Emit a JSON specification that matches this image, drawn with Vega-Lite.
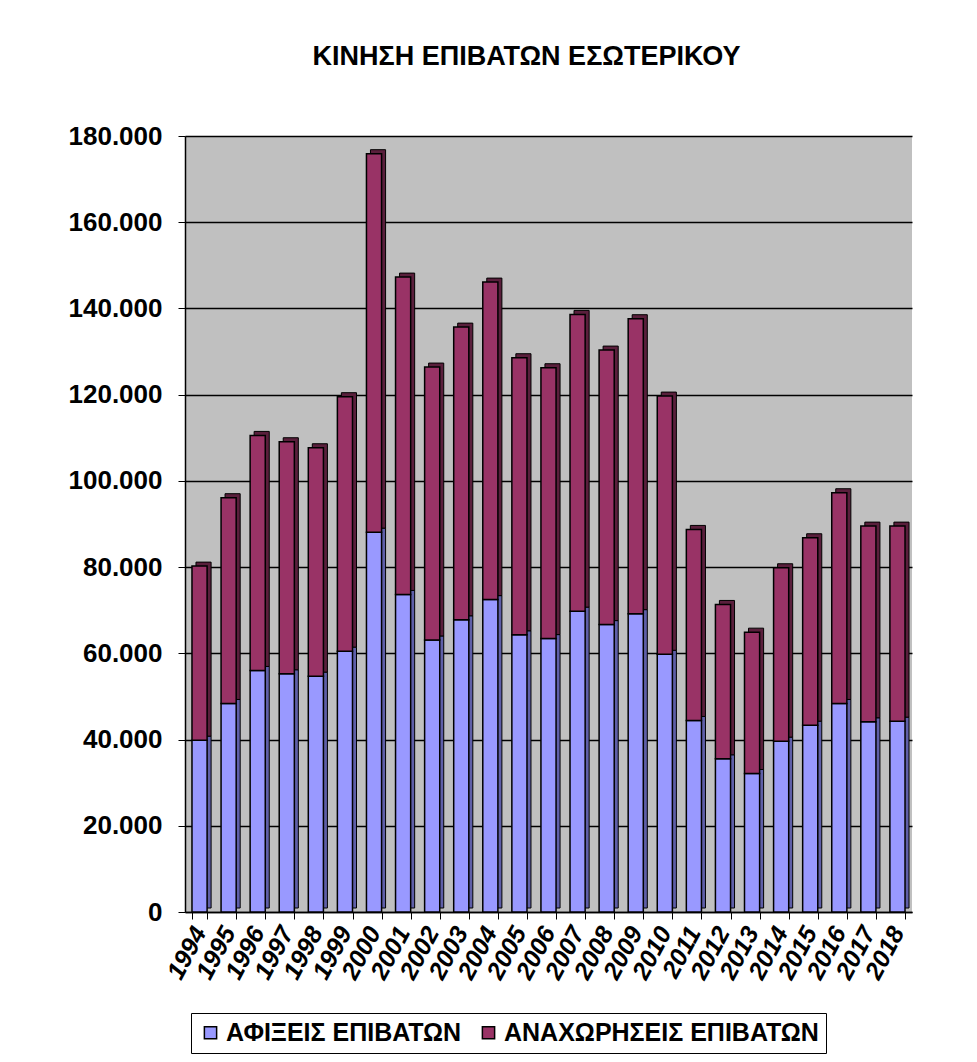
{
  "$schema": "https://vega.github.io/schema/vega-lite/v6.json",
  "autosize": {"type": "none"},
  "width": 727,
  "height": 776,
  "padding": {"left": 185, "top": 136, "right": 65, "bottom": 150},
  "background": "white",
  "title": {
    "text": "ΚΙΝΗΣΗ ΕΠΙΒΑΤΩΝ ΕΣΩΤΕΡΙΚΟΥ",
    "font": "Liberation Sans",
    "fontSize": 27,
    "fontWeight": "bold",
    "color": "black",
    "baseline": "alphabetic",
    "offset": 31,
    "dx": -22
  },
  "config": {
    "locale": {"number": {"decimal": ",", "thousands": ".", "grouping": [3], "currency": ["", "€"]}},
    "view": {"stroke": null, "fill": "#C0C0C0"},
    "axis": {"labelFont": "Liberation Sans", "labelColor": "black", "domainColor": "black", "tickColor": "black"}
  },
  "data": {"values": [
    {"year": "1994", "type": "ΑΦΙΞΕΙΣ ΕΠΙΒΑΤΩΝ", "value": 39860},
    {"year": "1994", "type": "ΑΝΑΧΩΡΗΣΕΙΣ ΕΠΙΒΑΤΩΝ", "value": 40370},
    {"year": "1995", "type": "ΑΦΙΞΕΙΣ ΕΠΙΒΑΤΩΝ", "value": 48370},
    {"year": "1995", "type": "ΑΝΑΧΩΡΗΣΕΙΣ ΕΠΙΒΑΤΩΝ", "value": 47730},
    {"year": "1996", "type": "ΑΦΙΞΕΙΣ ΕΠΙΒΑΤΩΝ", "value": 56030},
    {"year": "1996", "type": "ΑΝΑΧΩΡΗΣΕΙΣ ΕΠΙΒΑΤΩΝ", "value": 54520},
    {"year": "1997", "type": "ΑΦΙΞΕΙΣ ΕΠΙΒΑΤΩΝ", "value": 55260},
    {"year": "1997", "type": "ΑΝΑΧΩΡΗΣΕΙΣ ΕΠΙΒΑΤΩΝ", "value": 53820},
    {"year": "1998", "type": "ΑΦΙΞΕΙΣ ΕΠΙΒΑΤΩΝ", "value": 54710},
    {"year": "1998", "type": "ΑΝΑΧΩΡΗΣΕΙΣ ΕΠΙΒΑΤΩΝ", "value": 52980},
    {"year": "1999", "type": "ΑΦΙΞΕΙΣ ΕΠΙΒΑΤΩΝ", "value": 60510},
    {"year": "1999", "type": "ΑΝΑΧΩΡΗΣΕΙΣ ΕΠΙΒΑΤΩΝ", "value": 59020},
    {"year": "2000", "type": "ΑΦΙΞΕΙΣ ΕΠΙΒΑΤΩΝ", "value": 88110},
    {"year": "2000", "type": "ΑΝΑΧΩΡΗΣΕΙΣ ΕΠΙΒΑΤΩΝ", "value": 87790},
    {"year": "2001", "type": "ΑΦΙΞΕΙΣ ΕΠΙΒΑΤΩΝ", "value": 73660},
    {"year": "2001", "type": "ΑΝΑΧΩΡΗΣΕΙΣ ΕΠΙΒΑΤΩΝ", "value": 73610},
    {"year": "2002", "type": "ΑΦΙΞΕΙΣ ΕΠΙΒΑΤΩΝ", "value": 63100},
    {"year": "2002", "type": "ΑΝΑΧΩΡΗΣΕΙΣ ΕΠΙΒΑΤΩΝ", "value": 63300},
    {"year": "2003", "type": "ΑΦΙΞΕΙΣ ΕΠΙΒΑΤΩΝ", "value": 67780},
    {"year": "2003", "type": "ΑΝΑΧΩΡΗΣΕΙΣ ΕΠΙΒΑΤΩΝ", "value": 67890},
    {"year": "2004", "type": "ΑΦΙΞΕΙΣ ΕΠΙΒΑΤΩΝ", "value": 72460},
    {"year": "2004", "type": "ΑΝΑΧΩΡΗΣΕΙΣ ΕΠΙΒΑΤΩΝ", "value": 73650},
    {"year": "2005", "type": "ΑΦΙΞΕΙΣ ΕΠΙΒΑΤΩΝ", "value": 64300},
    {"year": "2005", "type": "ΑΝΑΧΩΡΗΣΕΙΣ ΕΠΙΒΑΤΩΝ", "value": 64270},
    {"year": "2006", "type": "ΑΦΙΞΕΙΣ ΕΠΙΒΑΤΩΝ", "value": 63420},
    {"year": "2006", "type": "ΑΝΑΧΩΡΗΣΕΙΣ ΕΠΙΒΑΤΩΝ", "value": 62830},
    {"year": "2007", "type": "ΑΦΙΞΕΙΣ ΕΠΙΒΑΤΩΝ", "value": 69790},
    {"year": "2007", "type": "ΑΝΑΧΩΡΗΣΕΙΣ ΕΠΙΒΑΤΩΝ", "value": 68830},
    {"year": "2008", "type": "ΑΦΙΞΕΙΣ ΕΠΙΒΑΤΩΝ", "value": 66670},
    {"year": "2008", "type": "ΑΝΑΧΩΡΗΣΕΙΣ ΕΠΙΒΑΤΩΝ", "value": 63670},
    {"year": "2009", "type": "ΑΦΙΞΕΙΣ ΕΠΙΒΑΤΩΝ", "value": 69210},
    {"year": "2009", "type": "ΑΝΑΧΩΡΗΣΕΙΣ ΕΠΙΒΑΤΩΝ", "value": 68410},
    {"year": "2010", "type": "ΑΦΙΞΕΙΣ ΕΠΙΒΑΤΩΝ", "value": 59780},
    {"year": "2010", "type": "ΑΝΑΧΩΡΗΣΕΙΣ ΕΠΙΒΑΤΩΝ", "value": 59890},
    {"year": "2011", "type": "ΑΦΙΞΕΙΣ ΕΠΙΒΑΤΩΝ", "value": 44430},
    {"year": "2011", "type": "ΑΝΑΧΩΡΗΣΕΙΣ ΕΠΙΒΑΤΩΝ", "value": 44310},
    {"year": "2012", "type": "ΑΦΙΞΕΙΣ ΕΠΙΒΑΤΩΝ", "value": 35540},
    {"year": "2012", "type": "ΑΝΑΧΩΡΗΣΕΙΣ ΕΠΙΒΑΤΩΝ", "value": 35800},
    {"year": "2013", "type": "ΑΦΙΞΕΙΣ ΕΠΙΒΑΤΩΝ", "value": 32130},
    {"year": "2013", "type": "ΑΝΑΧΩΡΗΣΕΙΣ ΕΠΙΒΑΤΩΝ", "value": 32780},
    {"year": "2014", "type": "ΑΦΙΞΕΙΣ ΕΠΙΒΑΤΩΝ", "value": 39630},
    {"year": "2014", "type": "ΑΝΑΧΩΡΗΣΕΙΣ ΕΠΙΒΑΤΩΝ", "value": 40220},
    {"year": "2015", "type": "ΑΦΙΞΕΙΣ ΕΠΙΒΑΤΩΝ", "value": 43340},
    {"year": "2015", "type": "ΑΝΑΧΩΡΗΣΕΙΣ ΕΠΙΒΑΤΩΝ", "value": 43470},
    {"year": "2016", "type": "ΑΦΙΞΕΙΣ ΕΠΙΒΑΤΩΝ", "value": 48370},
    {"year": "2016", "type": "ΑΝΑΧΩΡΗΣΕΙΣ ΕΠΙΒΑΤΩΝ", "value": 48880},
    {"year": "2017", "type": "ΑΦΙΞΕΙΣ ΕΠΙΒΑΤΩΝ", "value": 44120},
    {"year": "2017", "type": "ΑΝΑΧΩΡΗΣΕΙΣ ΕΠΙΒΑΤΩΝ", "value": 45390},
    {"year": "2018", "type": "ΑΦΙΞΕΙΣ ΕΠΙΒΑΤΩΝ", "value": 44270},
    {"year": "2018", "type": "ΑΝΑΧΩΡΗΣΕΙΣ ΕΠΙΒΑΤΩΝ", "value": 45240}
  ]},
  "encoding": {
    "x": {
      "field": "year", "type": "nominal",
      "scale": {"paddingInner": 0.48, "paddingOuter": 0.24},
      "axis": {
        "title": null, "labelAngle": -62, "labelAlign": "right", "labelBaseline": "middle",
        "labelFontSize": 25, "labelFontWeight": "bold", "labelFontStyle": "italic",
        "labelPadding": 9, "tickBand": "extent", "tickSize": 7, "domainWidth": 1.5
      }
    },
    "y": {
      "field": "value", "type": "quantitative", "stack": "zero",
      "scale": {"domain": [0, 180000], "nice": false},
      "axis": {
        "title": null, "values": [0, 20000, 40000, 60000, 80000, 100000, 120000, 140000, 160000, 180000],
        "format": ",d", "labelFontSize": 26, "labelFontWeight": "bold", "labelPadding": 16, "tickSize": 7,
        "gridColor": "black", "gridWidth": 1.6, "gridOpacity": 1, "domainWidth": 1.5
      }
    }
  },
  "layer": [
    {
      "mark": {"type": "bar", "xOffset": 4, "yOffset": -4, "stroke": "black", "strokeWidth": 1},
      "encoding": {
        "color": {
          "field": "type", "type": "nominal",
          "sort": ["ΑΦΙΞΕΙΣ ΕΠΙΒΑΤΩΝ", "ΑΝΑΧΩΡΗΣΕΙΣ ΕΠΙΒΑΤΩΝ"],
          "scale": {"domain": ["ΑΦΙΞΕΙΣ ΕΠΙΒΑΤΩΝ", "ΑΝΑΧΩΡΗΣΕΙΣ ΕΠΙΒΑΤΩΝ"], "range": ["#5f5fa8", "#5a1f3c"]},
          "legend": null
        }
      }
    },
    {
      "mark": {"type": "bar", "stroke": "black", "strokeWidth": 1.5, "opacity": 1},
      "encoding": {
        "color": {
          "field": "type", "type": "nominal",
          "sort": ["ΑΦΙΞΕΙΣ ΕΠΙΒΑΤΩΝ", "ΑΝΑΧΩΡΗΣΕΙΣ ΕΠΙΒΑΤΩΝ"],
          "scale": {"domain": ["ΑΦΙΞΕΙΣ ΕΠΙΒΑΤΩΝ", "ΑΝΑΧΩΡΗΣΕΙΣ ΕΠΙΒΑΤΩΝ"], "range": ["#9999FF", "#993366"]},
          "legend": {
            "title": null, "orient": "none", "legendX": 6, "legendY": 877, "direction": "horizontal",
            "symbolType": "square", "symbolSize": 150, "symbolStrokeColor": "black", "symbolStrokeWidth": 1.5,
            "symbolOpacity": 1,
            "labelFont": "Liberation Sans", "labelFontSize": 25, "labelFontWeight": "bold", "labelColor": "black",
            "labelOffset": 3, "columnPadding": 14, "padding": 7, "strokeColor": "black", "fillColor": "white",
            "labelLimit": 500
          }
        }
      }
    }
  ],
  "resolve": {"scale": {"color": "independent"}}
}
